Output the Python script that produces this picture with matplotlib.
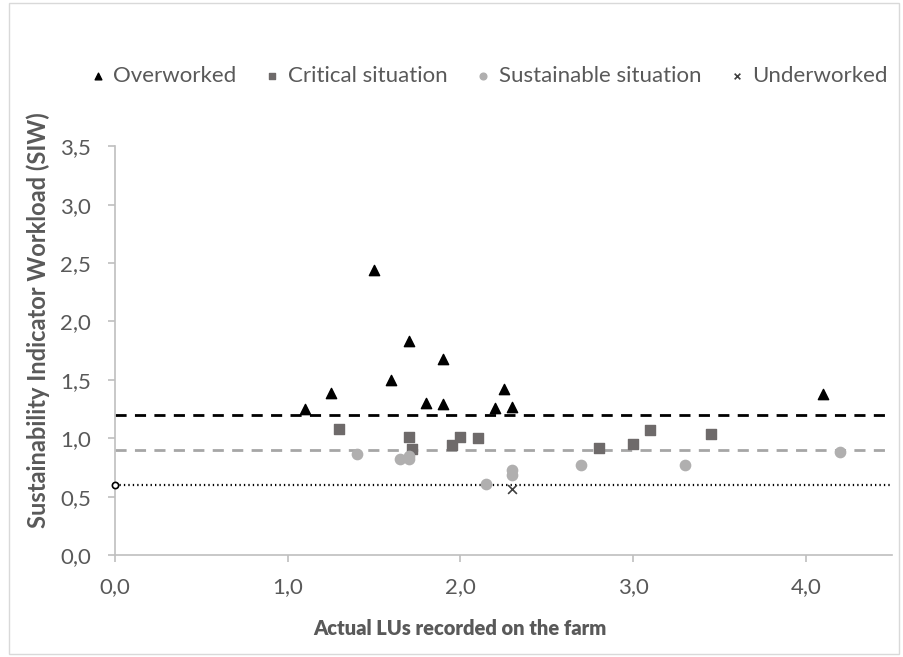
import matplotlib
matplotlib.use("Agg")
import matplotlib.pyplot as plt
from matplotlib.patches import Rectangle
from matplotlib.ticker import FuncFormatter

plt.rcParams['font.family'] = ['Lato', 'DejaVu Sans']

# valori
over_x = [1.1, 1.25, 1.5, 1.6, 1.7, 1.8, 1.9, 1.9, 2.2, 2.25, 2.3, 4.1]
over_y = [1.25, 1.39, 2.44, 1.50, 1.83, 1.30, 1.68, 1.29, 1.26, 1.42, 1.27, 1.38]

crit_x = [1.3, 1.7, 1.72, 1.95, 2.0, 2.1, 2.8, 3.0, 3.1, 3.45]
crit_y = [1.08, 1.01, 0.91, 0.94, 1.01, 1.00, 0.92, 0.95, 1.07, 1.04]

sust_x = [1.4, 1.65, 1.7, 1.7, 2.15, 2.3, 2.3, 2.7, 3.3, 4.2]
sust_y = [0.87, 0.82, 0.85, 0.82, 0.61, 0.73, 0.69, 0.77, 0.77, 0.88]

under_x = [2.3]
under_y = [0.57]

soglia_over = 1.2
soglia_sust = 0.9
soglia_under = 0.6

xticks = [0.0, 1.0, 2.0, 3.0, 4.0]
yticks = [0.0, 0.5, 1.0, 1.5, 2.0, 2.5, 3.0, 3.5]

fig = plt.figure(figsize=(9.04, 6.57), dpi=100)
ax = fig.add_axes([0.127, 0.155, 0.86, 0.6225])

# linee soglia
ax.axhline(soglia_over, color="black", lw=2, ls=(0, (4, 3)), zorder=1)
ax.axhline(soglia_sust, color="#a6a6a6", lw=2, ls=(0, (4, 3)), zorder=1)
ax.plot([0, 4.5], [soglia_under, soglia_under], color="black", lw=1.6, ls=(0, (0.6, 1.4)), zorder=1)
ax.plot([0], [soglia_under], marker="o", ms=4.5, mfc="white", mec="black", mew=1.2, ls="none", zorder=3, clip_on=False)

ax.scatter(over_x, over_y, marker="^", s=55, color="black", label="Overworked", zorder=3)
ax.scatter(crit_x, crit_y, marker="s", s=55, color="#6e6a6a", label="Critical situation", zorder=3)
ax.scatter(sust_x, sust_y, marker="o", s=55, color="#b0afaf", label="Sustainable situation", zorder=3)
ax.scatter(under_x, under_y, marker="x", s=40, color="#404040", lw=1.2, label="Underworked", zorder=3)

ax.set_xlim(0, 4.5)
ax.set_ylim(0, 3.5)
ax.set_xticks(xticks)
ax.set_yticks(yticks)
fmt = FuncFormatter(lambda v, p: ("%.1f" % v).replace(".", ","))
ax.xaxis.set_major_formatter(fmt)
ax.yaxis.set_major_formatter(fmt)

for s in ["top", "right"]:
    ax.spines[s].set_visible(False)
for s in ["left", "bottom"]:
    ax.spines[s].set_color("#bfbfbf")
    ax.spines[s].set_linewidth(1.2)
ax.tick_params(axis="both", colors="#bfbfbf", labelcolor="#595959", labelsize=16, length=5, width=1.2)
ax.tick_params(axis="x", pad=11)
ax.tick_params(axis="y", pad=12)

ax.set_xlabel("Actual LUs recorded on the farm", fontsize=14.5, fontweight="heavy", color="#595959")
ax.set_ylabel("Sustainability Indicator Workload (SIW)", fontsize=17, fontweight="bold", color="#595959")
ax.xaxis.set_label_coords(0.444, -0.155)
ax.yaxis.set_label_coords(-0.083, 0.574)

leg = fig.legend(loc="center", bbox_to_anchor=(0.539, 0.885), ncol=4, frameon=False,
                 fontsize=16, markerscale=0.65, handletextpad=0.2, columnspacing=1.1,
                 handlelength=1.0, labelcolor="#595959")

fig.patches.append(Rectangle((0.01, 0.005), 0.985, 0.99, transform=fig.transFigure,
                             fill=False, edgecolor="#d9d9d9", lw=1))

fig.savefig("out.png", dpi=100)
